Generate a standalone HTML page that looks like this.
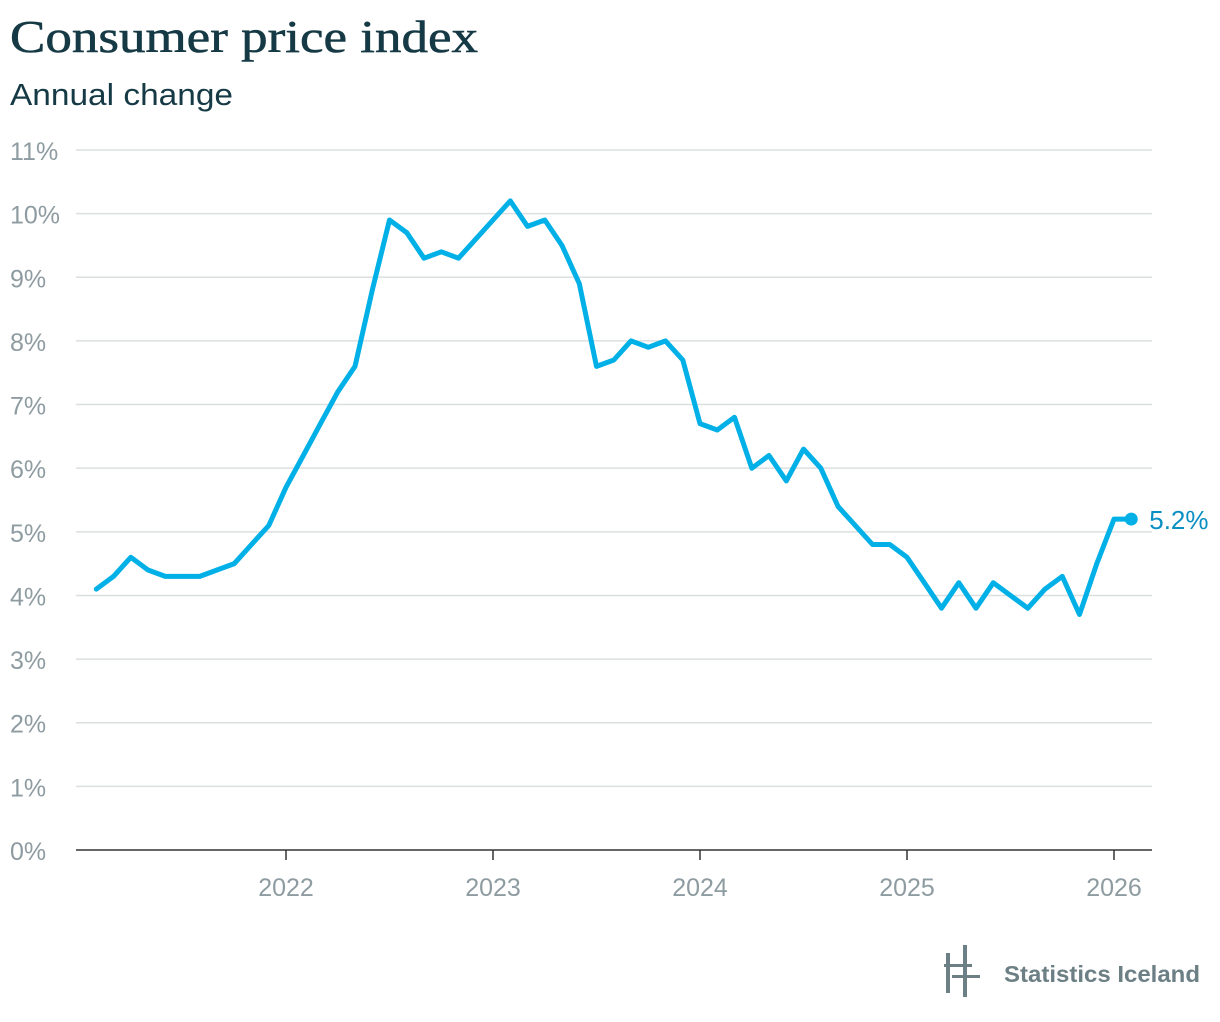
<!DOCTYPE html>
<html><head><meta charset="utf-8"><style>
body{margin:0;background:#fff;width:1220px;height:1022px;overflow:hidden;font-family:"Liberation Sans",sans-serif}
svg{display:block}
</style></head><body>
<svg id="chart" width="1220" height="1022">
<text x="10" y="52" font-family="Liberation Serif, serif" font-size="46" fill="#163a45" textLength="468" lengthAdjust="spacingAndGlyphs" stroke="#163a45" stroke-width="0.6">Consumer price index</text>
<text x="10" y="105" font-size="31" fill="#163a45" textLength="223" lengthAdjust="spacingAndGlyphs">Annual change</text>
<g id="grid"></g><g id="xaxis"></g><g id="series"></g>
<g fill="#6b7f85">
<rect x="946" y="953" width="4" height="40"/><rect x="963" y="945" width="4" height="52"/>
<rect x="944" y="964" width="28" height="3"/><rect x="952" y="975" width="28" height="3"/>
<text x="1004" y="982" font-size="23" font-weight="bold" fill="#6b7f85" textLength="196" lengthAdjust="spacingAndGlyphs">Statistics Iceland</text>
</g>
</svg>
<script>
const values=[4.1,4.3,4.6,4.4,4.3,4.3,4.3,4.4,4.5,4.8,5.1,5.7,6.2,6.7,7.2,7.6,8.8,9.9,9.7,9.3,9.4,9.3,9.6,9.9,10.2,9.8,9.9,9.5,8.9,7.6,7.7,8.0,7.9,8.0,7.7,6.7,6.6,6.8,6.0,6.2,5.8,6.3,6.0,5.4,5.1,4.8,4.8,4.6,4.2,3.8,4.2,3.8,4.2,4.0,3.8,4.1,4.3,3.7,4.5,5.2,5.2];
const startMonth=-11; // months relative to Jan 2022
const yTicks=[0,1,2,3,4,5,6,7,8,9,10,11];
const xYears=[2022,2023,2024,2025,2026];
const NS="http://www.w3.org/2000/svg";
const y=v=>850-v*(700/11);
const x=m=>286+m*(207/12);
function mk(t,a,p){const e=document.createElementNS(NS,t);for(const k in a)e.setAttribute(k,a[k]);p.appendChild(e);return e;}
const grid=document.getElementById('grid');
yTicks.forEach(v=>{
 if(v>0){const l=mk('line',{x1:76,x2:1152,y1:y(v),y2:y(v),stroke:'#dcdfe0','stroke-width':1.5},grid);
 
 }
 const t=mk('text',{x:10,y:y(v)+10,'font-size':25,fill:'#8e9ca1'},grid);t.textContent=v+'%';
 
 
});
const xa=document.getElementById('xaxis');
const ax=mk('line',{x1:76,x2:1152,y1:850,y2:850,stroke:'#333',"stroke-width":1.5},xa);


xYears.forEach(yr=>{const m=(yr-2022)*12;
 mk('line',{x1:x(m),x2:x(m),y1:850,y2:860,stroke:'#333','stroke-width':1.5},xa);
 const t=mk('text',{x:x(m),y:896,'font-size':25,fill:'#8e9ca1','text-anchor':'middle'},xa);t.textContent=yr;
 
 
});
const s=document.getElementById('series');
const pts=values.map((v,i)=>x(startMonth+i).toFixed(1)+','+y(v).toFixed(1)).join(' ');
const pl=mk('polyline',{points:pts,fill:'none',stroke:'#00b0e6','stroke-width':5,'stroke-linejoin':'round','stroke-linecap':'round'},s);


const li=values.length-1,lx=x(startMonth+li),ly=y(values[li]);
const c=mk('circle',{cx:lx,cy:ly,r:6.5,fill:'#00b0e6'},s);


const lt=mk('text',{x:lx+18,y:ly+10,'font-size':26,fill:'#0a8fc2'},s);lt.textContent=values[li].toFixed(1)+'%';


</script>
</body></html>
